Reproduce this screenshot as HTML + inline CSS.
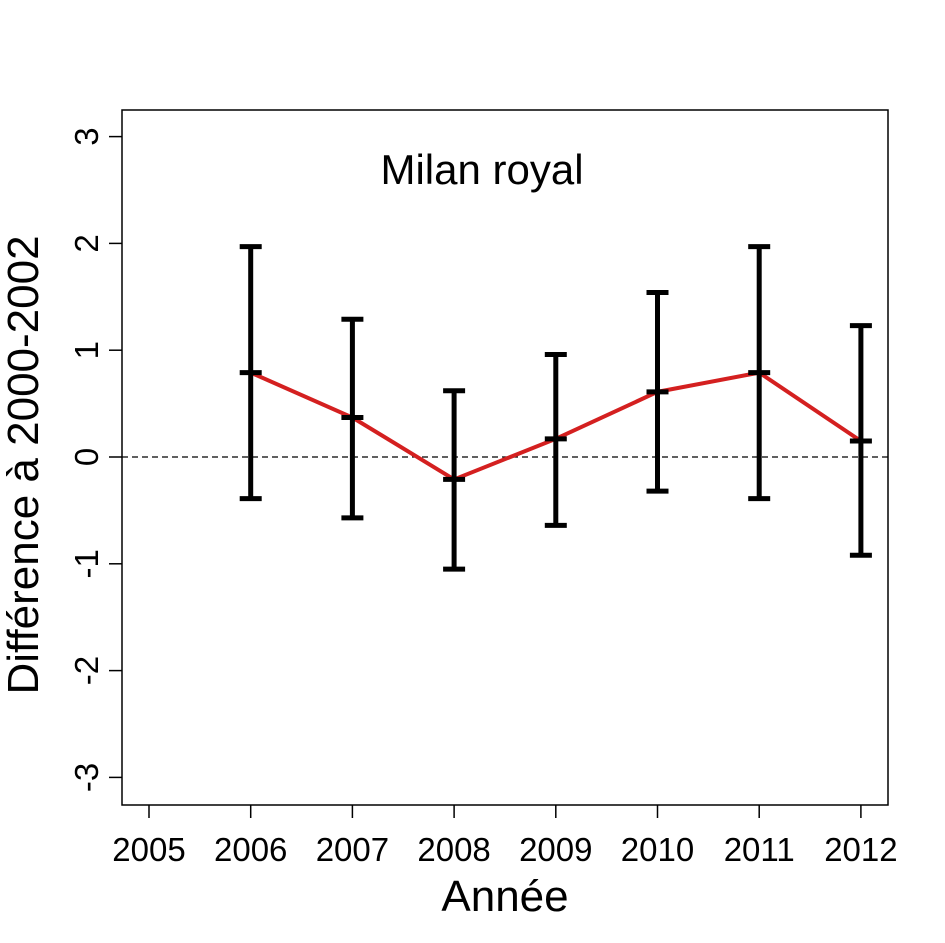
<!DOCTYPE html>
<html><head><meta charset="utf-8"><style>
html,body{margin:0;padding:0;background:#fff;}
svg{display:block;font-family:"Liberation Sans",sans-serif;}
</style></head><body>
<svg id="chart" width="945" height="943" viewBox="0 0 945 943" xmlns="http://www.w3.org/2000/svg">
<rect x="0" y="0" width="945" height="943" fill="#fff"/>
<rect x="122" y="110" width="766" height="695" fill="none" stroke="#000" stroke-width="1.5"/>
<g id="axes"></g>
<g id="marks"></g>
<text x="482" y="184" font-size="42" text-anchor="middle">Milan royal</text>
<text x="505" y="911" font-size="44" text-anchor="middle">Année</text>
<text transform="translate(38,465) rotate(-90)" font-size="44" text-anchor="middle">Différence à 2000-2002</text>
</svg>
<script>
const years = [2006, 2007, 2008, 2009, 2010, 2011, 2012];
const means = [0.79, 0.37, -0.21, 0.17, 0.61, 0.79, 0.15];
const uppers = [1.97, 1.29, 0.62, 0.96, 1.54, 1.97, 1.23];
const lowers = [-0.39, -0.57, -1.05, -0.64, -0.32, -0.39, -0.92];
const xTicks = [2005, 2006, 2007, 2008, 2009, 2010, 2011, 2012];
const yTicks = [-3, -2, -1, 0, 1, 2, 3];

const NS = "http://www.w3.org/2000/svg";
function xS(v){ return 149 + (v - 2005) * 101.7; }
function yS(v){ return 457 - v * 106.8; }
function mk(tag, attrs, parent){
  const e = document.createElementNS(NS, tag);
  for (const k in attrs) e.setAttribute(k, attrs[k]);
  parent.appendChild(e); return e;
}
const axes = document.getElementById('axes');
const marks = document.getElementById('marks');

xTicks.forEach(t => {
  const l = mk('line', {x1: xS(t), x2: xS(t), y1: 805, y2: 818, stroke: '#000', 'stroke-width': 1.5}, axes);
  
  
  const tx = mk('text', {x: xS(t), y: 861, 'font-size': 33, 'text-anchor': 'middle'}, axes);
  tx.textContent = t;
  
  
});
yTicks.forEach(t => {
  const l = mk('line', {x1: 109, x2: 122, y1: yS(t), y2: yS(t), stroke: '#000', 'stroke-width': 1.5}, axes);
  
  
  const tx = mk('text', {'font-size': 33, 'text-anchor': 'middle', transform: 'translate(98,' + yS(t) + ') rotate(-90)'}, axes);
  tx.textContent = t;
  
  
});

const ref = mk('line', {x1: 122, x2: 888, y1: yS(0), y2: yS(0), stroke: '#000', 'stroke-width': 1.3, 'stroke-dasharray': '6,4'}, marks);



const pts = years.map((y, i) => xS(y) + ',' + yS(means[i])).join(' ');
const pl = mk('polyline', {points: pts, fill: 'none', stroke: '#d42020', 'stroke-width': 4}, marks);



years.forEach((y, i) => {
  const g = mk('g', {stroke: '#000', 'stroke-width': 5}, marks);
  
  
  const x = xS(y);
  mk('line', {x1: x, x2: x, y1: yS(uppers[i]), y2: yS(lowers[i])}, g);
  mk('line', {x1: x - 11, x2: x + 11, y1: yS(uppers[i]), y2: yS(uppers[i])}, g);
  mk('line', {x1: x - 11, x2: x + 11, y1: yS(lowers[i]), y2: yS(lowers[i])}, g);
  mk('line', {x1: x - 11, x2: x + 11, y1: yS(means[i]), y2: yS(means[i])}, g);
});
</script>
</body></html>
